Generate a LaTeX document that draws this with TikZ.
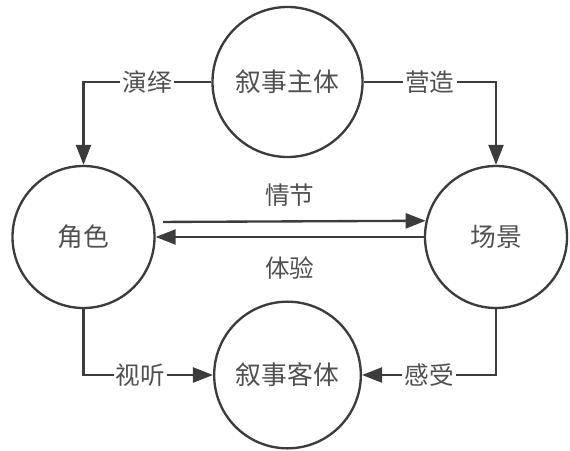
\documentclass[tikz,border=0pt]{standalone}
\usepackage{fontspec}
\setmainfont{Noto Sans CJK SC}
\usetikzlibrary{arrows.meta}
\definecolor{linegray}{HTML}{3C3C3C}
\definecolor{textgray}{HTML}{505050}

\begin{document}
\begin{tikzpicture}[x=0.03cm, y=-0.03cm,
  circ/.style={draw=linegray, circle, line width=2pt, text=textgray, inner sep=0pt, font=\fontsize{22}{26}\selectfont},
  arr/.style={draw=linegray, line width=2pt, -{Triangle[length=0.6cm, width=0.45cm]}},
  lbl/.style={fill=white, text=textgray, inner sep=2pt, font=\fontsize{21}{25}\selectfont}
]
\useasboundingbox (0,0) rectangle (570,450);
\node[circ, minimum size=4.5cm] (zhuti) at (287.5,82) {叙事主体};
\node[circ, minimum size=4.26cm] (juese) at (83.5,237) {角色};
\node[circ, minimum size=4.26cm] (changjing) at (496,237) {场景};
\node[circ, minimum size=4.4cm] (keti) at (287.5,375) {叙事客体};

\draw[arr] (zhuti.west) -| node[lbl, pos=0.25] (yanyi) {演绎} (juese.north);
\draw[arr] (zhuti.east) -| node[lbl, pos=0.25] (yingzao) {营造} (changjing.north);
\draw[arr, shorten <=0.27cm] (juese.12.2) -- node[text=textgray, yshift=0.78cm, font=\fontsize{21}{25}\selectfont] (qingjie) {情节} (changjing.167.8);
\draw[arr] (changjing.west) -- node[text=textgray, yshift=-0.93cm, font=\fontsize{21}{25}\selectfont] (tiyan) {体验} (juese.east);
\draw[arr] (juese.south) |- node[lbl, pos=0.72] (shiting) {视听} (keti.west);
\draw[arr] (changjing.south) |- node[lbl, pos=0.75] (ganshou) {感受} (keti.east);
\end{tikzpicture}
\end{document}
